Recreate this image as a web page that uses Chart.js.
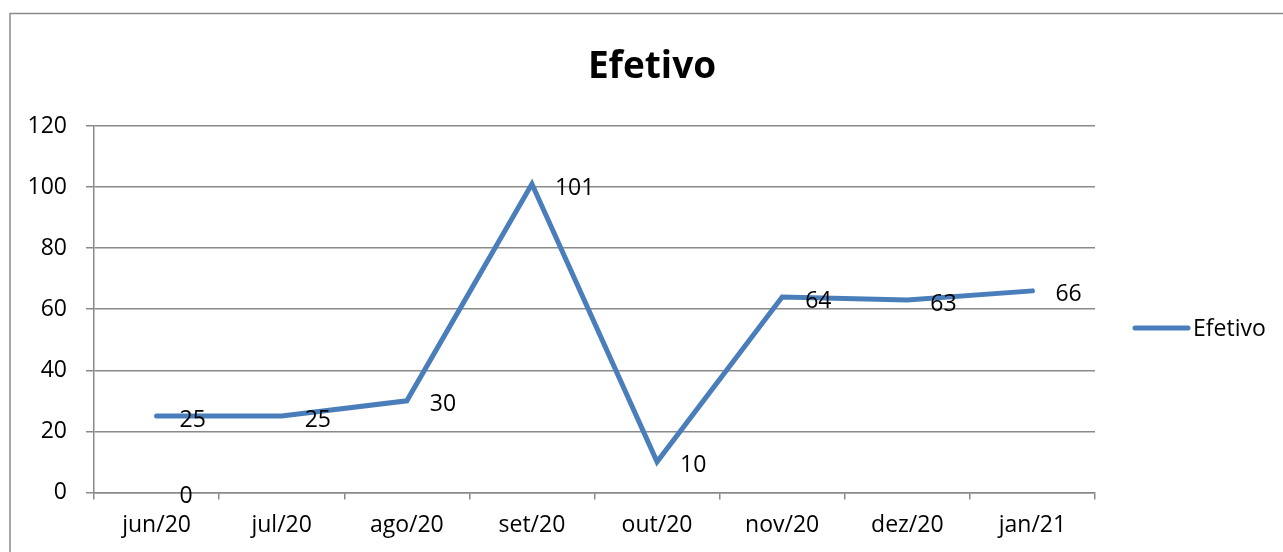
<!DOCTYPE html>
<html>
<head>
<meta charset="utf-8">
<script src="https://cdn.jsdelivr.net/npm/chart.js@4/dist/chart.umd.min.js"></script>
<style>
  html, body { margin: 0; padding: 0; background: #fff; overflow: hidden; }
  #chartEfetivo { display: block; }
</style>
</head>
<body>
<canvas id="chartEfetivo" width="1283" height="552"></canvas>
<script>
var meses = ['jun/20', 'jul/20', 'ago/20', 'set/20', 'out/20', 'nov/20', 'dez/20', 'jan/21'];
var efetivo = [25, 25, 30, 101, 10, 64, 63, 66];
var serieZero = [0, null, null, null, null, null, null, null];
var yTicks = [0, 20, 40, 60, 80, 100, 120];
var titulo = 'Efetivo';

var fonte = "'Open Sans', sans-serif";
var azul = '#4A7EBB';
var cinza = '#8a8a8a';

// rótulos de valor à direita de cada ponto
var rotulosPlugin = {
    id: 'rotulos',
    afterDatasetsDraw(chart) {
        var ctx = chart.ctx;
        ctx.save();
        ctx.font = '23px ' + fonte;
        ctx.fillStyle = '#000';
        ctx.textAlign = 'left';
        ctx.textBaseline = 'middle';
        chart.data.datasets.forEach(function (ds, i) {
            var meta = chart.getDatasetMeta(i);
            meta.data.forEach(function (pt, j) {
                var v = ds.data[j];
                if (v === null || v === undefined) return;
                ctx.fillText(String(v), pt.x + 23, pt.y + 4);
            });
        });
        ctx.restore();
    }
};

// moldura externa, título centralizado e legenda à direita
var molduraPlugin = {
    id: 'moldura',
    afterDraw(chart) {
        var ctx = chart.ctx;
        ctx.save();
        ctx.strokeStyle = cinza;
        ctx.lineWidth = 1.5;
        ctx.strokeRect(10, 13.5, 1300, 600);

        ctx.font = 'bold 37px ' + fonte;
        ctx.fillStyle = '#000';
        ctx.textAlign = 'center';
        ctx.textBaseline = 'alphabetic';
        ctx.fillText(titulo, 652, 78);

        var y = 328;
        ctx.strokeStyle = azul;
        ctx.lineWidth = 5;
        ctx.lineCap = 'round';
        ctx.beginPath();
        ctx.moveTo(1135, y);
        ctx.lineTo(1188, y);
        ctx.stroke();
        ctx.font = '23px ' + fonte;
        ctx.textAlign = 'left';
        ctx.textBaseline = 'middle';
        ctx.fillText(chart.data.datasets[0].label, 1193, y + 1);
        ctx.restore();
    }
};

var ctx = document.getElementById('chartEfetivo').getContext('2d');
var chart = new Chart(ctx, {
    type: 'line',
    data: {
        labels: meses,
        datasets: [{
            label: 'Efetivo',
            data: efetivo,
            borderColor: azul,
            backgroundColor: azul,
            borderWidth: 5,
            borderCapStyle: 'round',
            borderJoinStyle: 'miter',
            pointRadius: 0,
            tension: 0,
            fill: false
        }, {
            label: '',
            data: serieZero,
            showLine: false,
            pointRadius: 0
        }]
    },
    options: {
        responsive: false,
        animation: false,
        devicePixelRatio: 1,
        layout: { padding: { left: 0, right: 188, top: 126, bottom: 1 } },
        plugins: {
            legend: { display: false },
            tooltip: { enabled: false },
            title: { display: false }
        },
        scales: {
            x: {
                offset: true,
                border: { color: cinza, width: 1.5 },
                grid: { offset: true, drawOnChartArea: false, color: cinza, lineWidth: 1.5, tickLength: 7 },
                ticks: { color: '#000', font: { family: fonte, size: 23 }, padding: 12, maxRotation: 0 }
            },
            y: {
                min: 0,
                max: 120,
                afterFit(scale) { scale.width = 94; },
                afterBuildTicks(scale) { scale.ticks = yTicks.map(function (v) { return { value: v }; }); },
                border: { color: cinza, width: 1.5 },
                grid: { color: cinza, lineWidth: 1.5, tickLength: 8 },
                ticks: { color: '#000', font: { family: fonte, size: 23 }, padding: 19 }
            }
        }
    },
    plugins: [rotulosPlugin, molduraPlugin]
});
</script>
</body>
</html>
